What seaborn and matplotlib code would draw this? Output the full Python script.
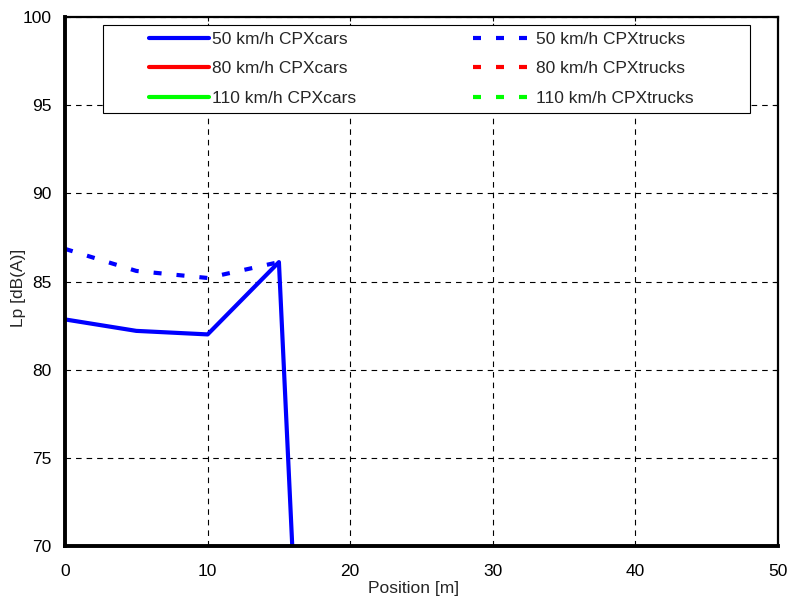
import numpy as np
import pandas as pd
import seaborn as sns
import matplotlib.pyplot as plt
from matplotlib.lines import Line2D
from matplotlib.patches import Rectangle

# values
position = [0, 5, 10, 15, 20, 25, 30, 35, 40, 45, 50]
cars_50 = [82.85, 82.2, 82.0, 86.1, 0, 0, 0, 0, 0, 0, 0]
trucks_pos = [0, 5, 10, 15]
trucks_50 = [86.85, 85.6, 85.2, 86.1]
cars_80 = []
cars_110 = []
trucks_80 = []
trucks_110 = []

sns.set_style('white')
plt.rcParams['font.family'] = ['Liberation Sans', 'DejaVu Sans']
fs = 12.5

fig = plt.figure(figsize=(7.89, 6.01), dpi=100)
ax = fig.add_axes([0.0824, 0.0915, 0.9037, 0.8802])

dash = (1.92, 3.6)
sns.lineplot(x=position, y=cars_50, ax=ax, color='#0000ff', lw=3)
sns.lineplot(x=trucks_pos, y=trucks_50, ax=ax, color='#0000ff', lw=3, dashes=dash)

ax.set_xlim(0, 50)
ax.set_ylim(70, 100)
ax.set_xticks(range(0, 51, 10))
ax.set_yticks(range(70, 101, 5))
ax.tick_params(labelsize=fs, direction='in', length=3, width=0.8,
               top=True, right=True, colors='black')
ax.tick_params(axis='x', pad=13)
ax.tick_params(axis='y', pad=9.5)
ax.grid(True, color='black', ls=(0, (5, 4.5)), lw=0.8)
for k, s in ax.spines.items():
    s.set_linewidth(2.8 if k in ('left', 'bottom') else 1.6)
    s.set_color('black')
ax.set_xlabel('Position [m]', fontsize=fs, va='top')
ax.xaxis.set_label_coords(0.4895, -0.066)
ax.set_ylabel('Lp [dB(A)]', fontsize=fs)
ax.yaxis.set_label_coords(-0.0547, 0.488)

# legend box
ax.add_patch(Rectangle((0.0533, 0.8185), 0.9074, 0.1664, transform=ax.transAxes,
                       fc='white', ec='black', lw=0.8, zorder=4))
cols = ['#0000ff', '#ff0000', '#00ff00']
car_labels = ['50 km/h CPXcars', '80 km/h CPXcars', '110 km/h CPXcars']
truck_labels = ['50 km/h CPXtrucks', '80 km/h CPXtrucks', '110 km/h CPXtrucks']
opts = dict(loc='upper left', fontsize=fs, handlelength=3.46, handletextpad=0.17,
            frameon=False, borderpad=0, borderaxespad=0, labelspacing=0.81)
leg1 = ax.legend([Line2D([], [], color=c, lw=3) for c in cols], car_labels,
                 bbox_to_anchor=(0.1178, 0.9716), **opts)
ax.add_artist(leg1)
ax.legend([Line2D([], [], color=c, lw=3, dashes=dash) for c in cols], truck_labels,
          bbox_to_anchor=(0.5722, 0.9716), **opts)

fig.savefig('out.png', dpi=100)
